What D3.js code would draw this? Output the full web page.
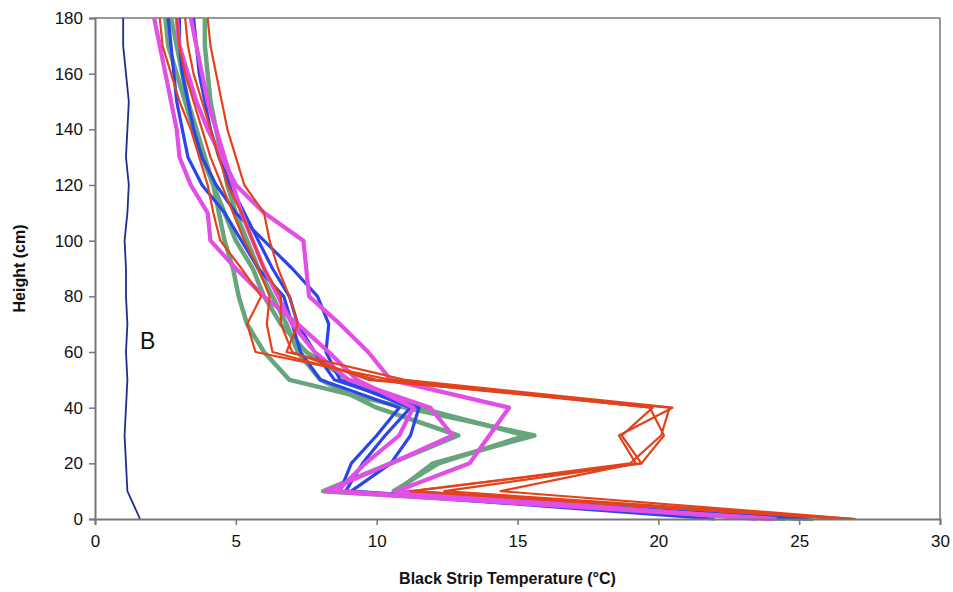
<!DOCTYPE html>
<html>
<head>
<meta charset="utf-8">
<script src="https://cdn.jsdelivr.net/npm/d3@7"></script>
<style>
  body { margin: 0; background: #fff; }
  text { font-family: "Liberation Sans", Arial, sans-serif; }
</style>
</head>
<body>
<div id="chart"></div>
<script>
// heights (cm) at which each profile was read
var heights = [0, 10, 20, 30, 40, 50, 60, 70, 80, 90, 100, 110, 120, 130, 140, 150, 160, 170, 180];

var xTicks = [0, 5, 10, 15, 20, 25, 30];
var yTicks = [0, 20, 40, 60, 80, 100, 120, 140, 160, 180];

// background profile "B"
var bare = [1.6, 1.15, 1.1, 1.05, 1.1, 1.15, 1.1, 1.15, 1.1, 1.1, 1.05, 1.15, 1.2, 1.1, 1.15, 1.2, 1.1, 1.0, 1.0];

var redSeries = [
    [27.0, 12.4, 19.4, 20.2, 19.7, 10.5, 5.7, 5.4, 5.9, 5.2, 4.45, 4.2, 4.0, 3.7, 3.4, 3.0, 2.7, 2.4, 2.3],
    [27.0, 14.4, 19.2, 18.6, 20.5, 11.0, 6.8, 7.2, 6.9, 6.5, 6.2, 6.0, 5.3, 5.0, 4.7, 4.5, 4.3, 4.1, 4.0],
    [26.6, 11.2, 19.4, 18.7, 19.8, 10.0, 6.3, 6.1, 6.2, 5.8, 5.3, 4.9, 4.5, 4.1, 3.8, 3.5, 3.2, 3.0, 2.9],
    [26.4, 11.3, 19.0, 20.1, 20.4, 9.7, 7.0, 6.6, 6.6, 6.0, 5.6, 5.2, 4.7, 4.4, 4.1, 3.8, 3.5, 3.3, 3.2]
];

var greenSeries = [
    [25.5, 10.7, 12.0, 15.6, 11.0, 6.9, 6.0, 5.4, 5.1, 4.9, 4.6, 4.4, 4.2, 3.9, 3.6, 3.3, 3.1, 2.9, 2.7],
    [24.5, 8.1, 10.5, 12.9, 10.0, 8.0, 7.2, 6.8, 6.3, 5.8, 5.4, 5.0, 4.7, 4.5, 4.3, 4.1, 4.0, 3.9, 3.9],
    [25.0, 10.6, 12.2, 15.3, 11.5, 9.0, 7.5, 6.6, 6.0, 5.6, 5.0, 4.6, 4.2, 3.8, 3.5, 3.2, 2.9, 2.6, 2.5]
];

var blueSeries = [
    [25.3, 8.7, 9.1, 10.0, 10.8, 8.0, 7.3, 7.0, 6.7, 5.8, 5.2, 4.6, 3.8, 3.3, 3.1, 2.9, 2.8, 2.7, 2.6],
    [24.0, 9.1, 10.5, 11.2, 11.5, 8.5, 7.8, 7.2, 6.9, 6.3, 5.8, 5.3, 4.8, 4.4, 4.1, 3.9, 3.7, 3.6, 3.5],
    [22.0, 8.9, 9.5, 10.3, 11.2, 8.7, 8.2, 8.3, 7.9, 7.0, 6.0, 5.0, 4.3, 3.8, 3.5, 3.3, 3.1, 3.0, 3.0]
];

var magentaSeries = [
    [24.0, 8.2, 10.5, 12.7, 11.9, 9.0, 7.8, 7.0, 6.5, 6.0, 5.6, 5.2, 4.9, 4.6, 4.3, 4.0, 3.8, 3.6, 3.4],
    [23.5, 10.7, 13.3, 14.0, 14.7, 10.5, 9.7, 8.7, 7.6, 7.5, 7.4, 6.0, 5.0, 4.5, 4.0, 3.6, 3.3, 3.0, 2.9],
    [24.2, 8.6, 9.6, 10.8, 11.3, 9.3, 8.3, 7.2, 6.0, 5.0, 4.1, 4.0, 3.4, 3.0, 2.9, 2.7, 2.5, 2.3, 2.1]
];

var svgWidth = 953, svgHeight = 592;
var plotLeft = 95, plotRight = 940, plotTop = 18, plotBottom = 519;

var x = d3.scaleLinear().domain([0, 30]).range([plotLeft, plotRight]);
var y = d3.scaleLinear().domain([0, 180]).range([plotBottom, plotTop]);

var svg = d3.select("#chart").append("svg")
    .attr("width", svgWidth)
    .attr("height", svgHeight);

// frame on top and right
svg.append("line")
    .attr("x1", plotLeft).attr("x2", plotRight).attr("y1", plotTop).attr("y2", plotTop)
    .style("stroke", "#777").style("stroke-width", 1.5);
svg.append("line")
    .attr("x1", plotRight).attr("x2", plotRight).attr("y1", plotTop).attr("y2", plotBottom)
    .style("stroke", "#777").style("stroke-width", 1.5);

var line = d3.line()
    .x(function(d) { return x(d[0]); })
    .y(function(d) { return y(d[1]); });

function drawProfiles(list, color, width) {
    list.forEach(function(vals) {
        var pts = vals.map(function(v, i) { return [v, heights[i]]; });
        svg.append("path")
            .datum(pts)
            .attr("d", line)
            .style("fill", "none")
            .style("stroke", color)
            .style("stroke-width", width)
            .style("stroke-linejoin", "round");
    });
}

drawProfiles(greenSeries, "#68a47c", 4.5);
drawProfiles(blueSeries, "#2a46ea", 3.2);
drawProfiles(magentaSeries, "#e14fe6", 4.2);
drawProfiles(redSeries, "#e2431c", 2.2);
drawProfiles([bare], "#1f2d8f", 1.8);

svg.append("text")
    .attr("x", x(1.6))
    .attr("y", y(64) + 8)
    .text("B")
    .style("font-size", "23px")
    .style("fill", "#111");

// axes
var xAxis = svg.append("g")
    .attr("transform", "translate(0," + plotBottom + ")")
    .call(d3.axisBottom(x).tickValues(xTicks).tickSize(6).tickPadding(10));
var yAxis = svg.append("g")
    .attr("transform", "translate(" + plotLeft + ",0)")
    .call(d3.axisLeft(y).tickValues(yTicks).tickSize(6).tickPadding(6));

[xAxis, yAxis].forEach(function(a) {
    a.select(".domain").style("stroke", "#777").style("stroke-width", 2);
    a.selectAll(".tick line").style("stroke", "#777").style("stroke-width", 1.5);
    a.selectAll(".tick text")
        .style("font-family", "'Liberation Sans', Arial, sans-serif")
        .style("font-size", "17px")
        .style("fill", "#111");
});

svg.append("text")
    .attr("x", (plotLeft + plotRight) / 2 - 10)
    .attr("y", 584)
    .attr("text-anchor", "middle")
    .text("Black Strip Temperature (°C)")
    .style("font-size", "16px")
    .style("font-weight", "bold")
    .style("fill", "#111");

svg.append("text")
    .attr("transform", "translate(25," + ((plotTop + plotBottom) / 2) + ") rotate(-90)")
    .attr("text-anchor", "middle")
    .text("Height (cm)")
    .style("font-size", "16px")
    .style("font-weight", "bold")
    .style("fill", "#111");
</script>
</body>
</html>
